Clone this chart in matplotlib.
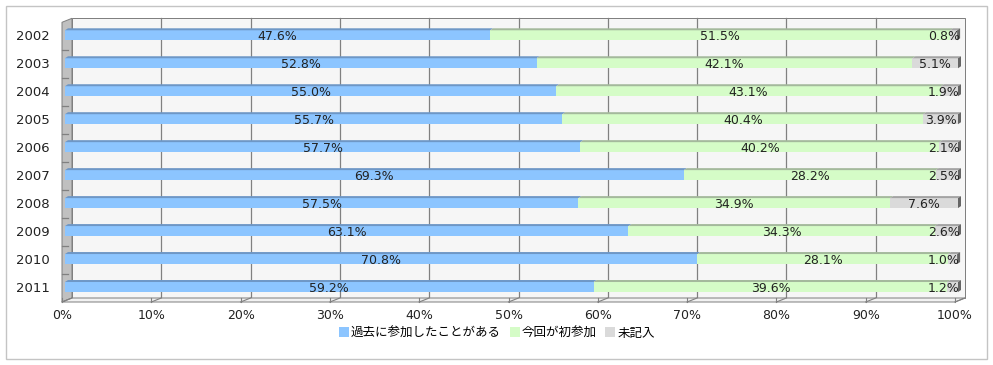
import matplotlib.pyplot as plt
from matplotlib.patches import Polygon, Rectangle, Patch

plt.rcParams['font.family'] = ['DejaVu Sans', 'Noto Sans CJK JP']

# data (percent)
years = ["2002", "2003", "2004", "2005", "2006", "2007", "2008", "2009", "2010", "2011"]
past = [47.6, 52.8, 55.0, 55.7, 57.7, 69.3, 57.5, 63.1, 70.8, 59.2]
first = [51.5, 42.1, 43.1, 40.4, 40.2, 28.2, 34.9, 34.3, 28.1, 39.6]
blank = [0.8, 5.1, 1.9, 3.9, 2.1, 2.5, 7.6, 2.6, 1.0, 1.2]
series_names = ["過去に参加したことがある", "今回が初参加", "未記入"]
x_ticks = [0, 10, 20, 30, 40, 50, 60, 70, 80, 90, 100]

front_cols = ["#8cc5ff", "#d5fcc7", "#dadada"]
top_cols = ["#6e97c6", "#a4b99c", "#a3a3a3"]
side_col = "#656565"
edge = "#808080"

fig = plt.figure(figsize=(9.93, 3.65), dpi=100)
ax = fig.add_axes([65 / 993, (365 - 301) / 365, 893 / 993, 279.7 / 365])
ax.set_xlim(0, 100)
ax.set_ylim(9.5, -0.5)
ax.axis('off')

# data units per pixel
XPX = 100 / 893
YPX = 10 / 279.7
n = len(years)
top, bot = -0.5, n - 0.5

def poly(pts, fc, ec='none', z=2, lw=0.72):
    ax.add_patch(Polygon(pts, closed=True, facecolor=fc, edgecolor=ec,
                         lw=lw, zorder=z, clip_on=False))

# back wall (shifted back by depth)
bx, by = 7 * XPX, -3 * YPX
fx, fy = -3 * XPX, 1 * YPX
poly([(bx, top + by), (100 + bx, top + by), (100 + bx, bot + by), (bx, bot + by)],
     "#f6f6f6", edge, z=0)
for t in x_ticks[1:-1]:
    ax.plot([t + bx, t + bx], [top + by, bot + by], color=edge, lw=0.9,
            zorder=1, clip_on=False)

# left wall
poly([(fx, top + fy), (bx, top + by), (bx, bot + by), (fx, bot + fy)],
     "#c0c0c0", edge, z=1)
for i in range(n - 1):
    ax.plot([fx, fx + 6 * XPX], [i + 0.5 + fy, i + 0.5 + fy], color=edge,
            lw=0.9, zorder=1, clip_on=False)

# floor
poly([(fx, bot + fy), (100 + fx, bot + fy), (100 + bx, bot + by), (bx, bot + by)],
     "#f2f2f2", edge, z=1)
for t in x_ticks:
    ax.plot([t + fx, t + bx], [bot + fy, bot + by], color=edge, lw=0.8,
            zorder=1, clip_on=False)
    ax.plot([t + fx, t + fx], [bot + fy, bot + fy - 4 * YPX], color=edge,
            lw=0.8, zorder=1, clip_on=False)
    ax.text(t + fx, bot + 15 * YPX, f"{t}%", ha='center', va='center',
            fontsize=9, color="#222222")

# bars
bh = 10 * YPX
dx, dy = 3 * XPX, 2 * YPX
for i in range(n):
    vals = [past[i], first[i], blank[i]]
    left = 0
    for k, v in enumerate(vals):
        y0 = i - bh / 2
        ax.add_patch(Rectangle((left, y0), v, bh, facecolor=front_cols[k],
                               edgecolor='none', zorder=3))
        poly([(left, y0), (left + v, y0), (left + v + dx, y0 - dy), (left + dx, y0 - dy)],
             top_cols[k], z=3)
        cx = min(left + v / 2, 98.4)
        ax.text(cx, i + 1.5 * YPX, f"{v:.1f}%", ha='center', va='center',
                fontsize=9, color="#222222", zorder=5)
        left += v
    y0 = i - bh / 2
    poly([(left, y0), (left + dx, y0 - dy), (left + dx, y0 + bh - dy), (left, y0 + bh)],
         side_col, z=3)
    ax.text(-15 * XPX, i + 1.5 * YPX, years[i], ha='right', va='center',
            fontsize=9.5, color="#222222")

# outer frame
fig.patches.append(Rectangle((5.5 / 993, 6 / 365), 981 / 993, 353 / 365,
                             transform=fig.transFigure, fill=False,
                             edgecolor="#c4c4c4", lw=1))

handles = [Patch(facecolor=c, edgecolor='none') for c in front_cols]
fig.legend(handles, series_names, loc='center', bbox_to_anchor=(497 / 993, 1 - 333 / 365),
           ncol=3, frameon=False, handlelength=0.8, handleheight=0.8,
           handletextpad=0.15, columnspacing=0.7,
           prop={'family': ['Noto Sans CJK JP', 'DejaVu Sans'], 'size': 9})

fig.savefig("out.png", dpi=100)
